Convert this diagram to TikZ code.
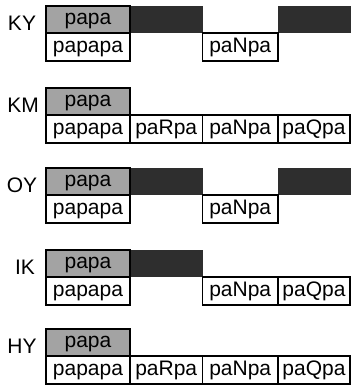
\documentclass[tikz,border=0pt]{standalone}
\usepackage{fontspec}
\setmainfont{Liberation Sans}
\begin{document}
\begin{tikzpicture}[x=1bp,y=-1bp,
  cellbase/.style={inner sep=0pt, outer sep=0pt, anchor=north west,
    text height=14.5bp, text depth=3.6bp, font=\fontsize{21bp}{25bp}\selectfont},
  graybox/.style={cellbase, draw, line width=1.6bp, fill=black!36, minimum width=84bp, minimum height=27bp},
  darkbox/.style={cellbase, fill=black!82, minimum height=27bp},
  whitebox/.style={cellbase, draw, line width=1.3bp, fill=white, minimum height=28bp},
  firstcol/.style={line width=2.8bp},
  rowlabel/.style={inner sep=0pt, text height=16.5bp, text depth=1.5bp, font=\fontsize{21bp}{25bp}\selectfont}
]
\useasboundingbox (0,0) rectangle (351,386);

% KY
\node[rowlabel] (kyl) at (22,22.5) {KY};
\node[graybox] (kyg) at (46,6) {papa};
\node[darkbox, minimum width=72.5bp] (kyd2) at (130,6) {};
\node[darkbox, minimum width=73bp] (kyd4) at (278,6) {};
\node[whitebox, minimum width=84bp] (kyw1) at (46,33) {papapa};
\node[whitebox, minimum width=75.5bp] (kyw3) at (202.5,33) {paNpa};
\draw[firstcol] (kyg.north west) rectangle (kyw1.south east);

% KM
\node[rowlabel] (kml) at (23,104.5) {KM};
\node[graybox] (kmg) at (46,88) {papa};
\node[whitebox, minimum width=84bp] (kmw1) at (46,115) {papapa};
\node[whitebox, minimum width=72.5bp] (kmw2) at (130,115) {paRpa};
\node[whitebox, minimum width=75.5bp] (kmw3) at (202.5,115) {paNpa};
\node[whitebox, minimum width=72bp] (kmw4) at (278,115) {paQpa};
\draw[firstcol] (kmg.north west) rectangle (kmw1.south east);

% OY
\node[rowlabel] (oyl) at (22,184.5) {OY};
\node[graybox] (oyg) at (46,168) {papa};
\node[darkbox, minimum width=72.5bp] (oyd2) at (130,168) {};
\node[darkbox, minimum width=73bp] (oyd4) at (278,168) {};
\node[whitebox, minimum width=84bp] (oyw1) at (46,195) {papapa};
\node[whitebox, minimum width=75.5bp] (oyw3) at (202.5,195) {paNpa};
\draw[firstcol] (oyg.north west) rectangle (oyw1.south east);

% IK
\node[rowlabel] (ikl) at (25,266.5) {IK};
\node[graybox] (ikg) at (46,250) {papa};
\node[darkbox, minimum width=72.5bp] (ikd2) at (130,250) {};
\node[whitebox, minimum width=84bp] (ikw1) at (46,277) {papapa};
\node[whitebox, minimum width=75.5bp] (ikw3) at (202.5,277) {paNpa};
\node[whitebox, minimum width=72bp] (ikw4) at (278,277) {paQpa};
\draw[firstcol] (ikg.north west) rectangle (ikw1.south east);

% HY
\node[rowlabel] (hyl) at (22,345.5) {HY};
\node[graybox] (hyg) at (46,329) {papa};
\node[whitebox, minimum width=84bp] (hyw1) at (46,356) {papapa};
\node[whitebox, minimum width=72.5bp] (hyw2) at (130,356) {paRpa};
\node[whitebox, minimum width=75.5bp] (hyw3) at (202.5,356) {paNpa};
\node[whitebox, minimum width=72bp] (hyw4) at (278,356) {paQpa};
\draw[firstcol] (hyg.north west) rectangle (hyw1.south east);
\end{tikzpicture}
\end{document}
